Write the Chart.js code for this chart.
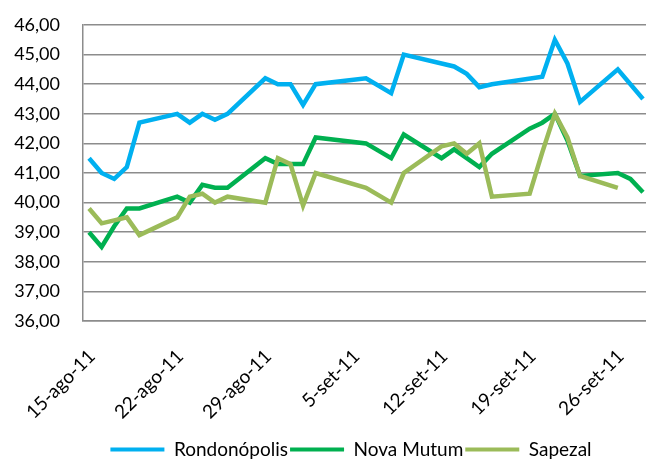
<!DOCTYPE html>
<html>
<head>
<meta charset="utf-8">
<script src="https://cdn.jsdelivr.net/npm/chart.js@4"></script>
<style>
  html, body { margin: 0; padding: 0; background: #fff; }
  #wrap { width: 646px; height: 459px; position: relative; }
</style>
</head>
<body>
<div id="wrap"><canvas id="priceChart"></canvas></div>
<script>
// day offsets from 15-ago-11 (business days only)
var days = [0, 1, 2, 3, 4, 7, 8, 9, 10, 11, 14, 15, 16, 17, 18, 22, 24, 25, 28, 29, 30, 31, 32, 35, 36, 37, 38, 39, 42, 43, 44];

var rondonopolis = [41.5, 41.0, 40.8, 41.2, 42.7, 43.0, 42.7, 43.0, 42.8, 43.0, 44.2, 44.0, 44.0, 43.3, 44.0, 44.2, 43.7, 45.0, null, 44.6, 44.35, 43.9, 44.0, null, 44.25, 45.5, 44.7, 43.4, 44.5, null, 43.5];
var novaMutum = [39.0, 38.5, 39.2, 39.8, 39.8, 40.2, 40.0, 40.6, 40.5, 40.5, 41.5, 41.3, 41.3, 41.3, 42.2, 42.0, 41.5, 42.3, 41.5, 41.8, 41.5, 41.2, 41.65, 42.5, 42.7, 43.0, 42.1, 40.9, 41.0, 40.8, 40.35];
var sapezal = [39.8, 39.3, 39.4, 39.5, 38.9, 39.5, 40.2, 40.3, 40.0, 40.2, 40.0, 41.5, 41.3, 39.9, 41.0, 40.5, 40.0, 41.0, 41.9, 42.0, 41.65, 42.0, 40.2, 40.3, 41.7, 43.0, 42.2, 40.9, 40.5, null, null];

var tickDays = [0, 7, 14, 21, 28, 35, 42];
var tickLabels = ["15-ago-11", "22-ago-11", "29-ago-11", "5-set-11", "12-set-11", "19-set-11", "26-set-11"];

function toPoints(vals) {
  return days.map(function (d, i) {
    return { x: d, y: vals[i] };
  });
}

function series(label, vals, color, order) {
  return {
    label: label,
    data: toPoints(vals),
    borderColor: color,
    backgroundColor: color,
    borderWidth: 4.5,
    pointRadius: 0,
    tension: 0,
    spanGaps: true,
    order: order,
  };
}

Chart.defaults.font.family = "Lato, 'Open Sans', sans-serif";
Chart.defaults.font.size = 18;
Chart.defaults.color = "#000";

var gridGray = "#8c8c8c";

new Chart(document.getElementById("priceChart"), {
  type: "line",
  data: {
    datasets: [
      series("Rondonópolis", rondonopolis, "#00b0f0", 2),
      series("Nova Mutum", novaMutum, "#00b050", 1),
      series("Sapezal", sapezal, "#9bbb59", 0),
    ],
  },
  options: {
    responsive: true,
    maintainAspectRatio: false,
    animation: false,
    // the original is cropped on the right: negative padding keeps legend centred like it
    layout: { padding: { top: 25, left: 0, right: -56, bottom: -10 } },
    scales: {
      x: {
        type: "linear",
        min: -0.48,
        max: 44.24,
        grid: { display: false, drawTicks: false },
        border: { display: true, color: gridGray, width: 1.5 },
        afterBuildTicks: function (scale) {
          scale.ticks = tickDays.map(function (v) {
            return { value: v };
          });
        },
        afterFit: function (scale) {
          scale.height = 117;
          scale.paddingRight = 0;
          scale.paddingLeft = 0;
        },
        ticks: {
          minRotation: 45,
          maxRotation: 45,
          padding: 24,
          labelOffset: 3,
          autoSkip: false,
          font: { size: 19 },
          callback: function (v, i) {
            return tickLabels[i];
          },
        },
      },
      y: {
        min: 36,
        max: 46,
        grid: { color: gridGray, lineWidth: 1.5, drawTicks: false },
        border: { display: true, color: gridGray, width: 1.5 },
        afterFit: function (scale) {
          scale.width = 83;
          scale.paddingTop = 0;
          scale.paddingBottom = 0;
        },
        ticks: {
          stepSize: 1,
          padding: 23,
          callback: function (v) {
            return v.toFixed(2).replace(".", ",");
          },
        },
      },
    },
    plugins: {
      legend: {
        position: "bottom",
        labels: {
          boxWidth: 54,
          boxHeight: 4,
          padding: 2,
          font: { size: 19 },
          sort: function (a, b) {
            return a.datasetIndex - b.datasetIndex;
          },
          generateLabels: function (chart) {
            var items = Chart.defaults.plugins.legend.labels.generateLabels(chart);
            items.forEach(function (it) {
              it.lineWidth = 0;
            });
            return items;
          },
        },
      },
      tooltip: { enabled: false },
    },
  },
});
</script>
</body>
</html>
